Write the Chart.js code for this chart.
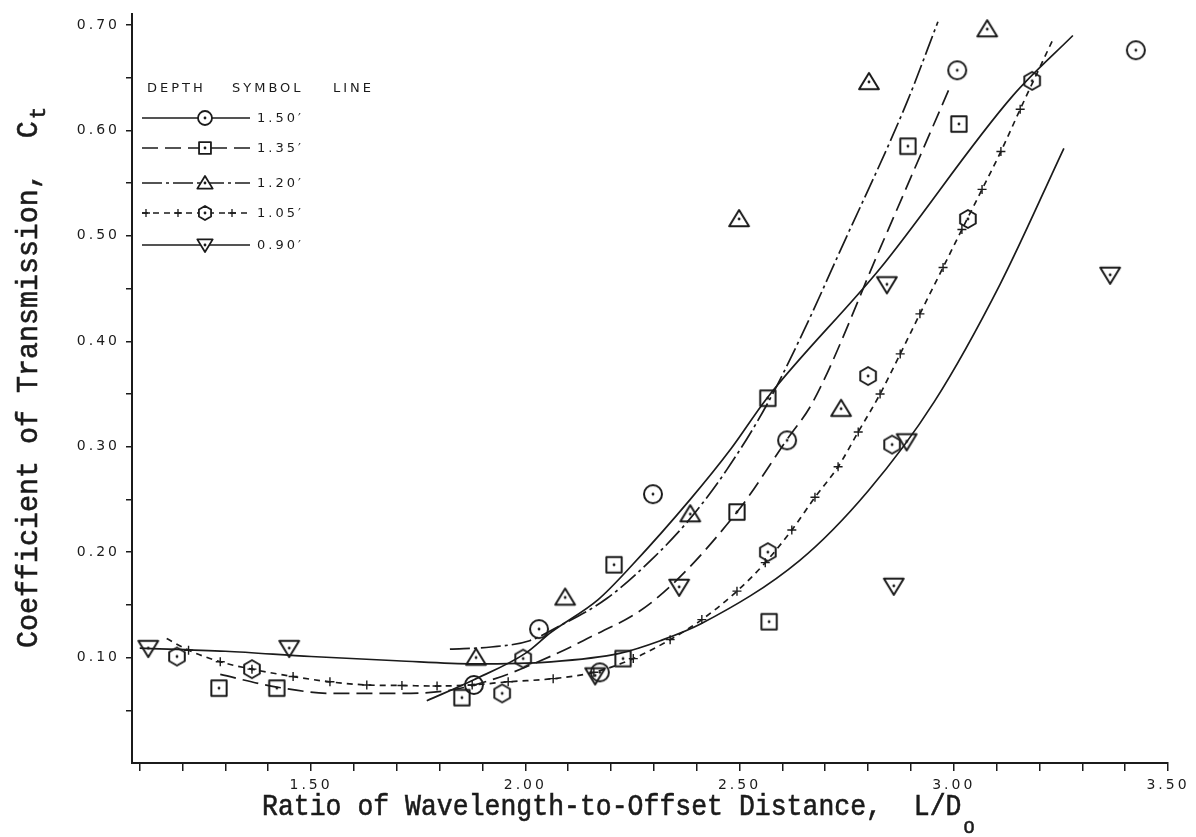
<!DOCTYPE html>
<html>
<head>
<meta charset="utf-8">
<title>Coefficient of Transmission vs L/Do</title>
<script src="https://cdn.jsdelivr.net/npm/chart.js@4.4.1/dist/chart.umd.min.js"></script>
<style>
  html, body { margin: 0; padding: 0; background: #fff; }
  #wrap { position: relative; width: 1196px; height: 837px; }
</style>
</head>
<body>
<div id="wrap"><canvas id="ctChart" width="1196" height="837"></canvas></div>
<script>
/* ---- values ---- */
const depthLabels = ['1.50′', '1.35′', '1.20′', '1.05′', '0.90′'];

// measured points (x = L/Do, y = Ct)
const pts150X = [1.880, 2.032, 2.174, 2.298, 2.611, 3.008, 3.425];
const pts150Y = [0.074, 0.127, 0.086, 0.255, 0.306, 0.657, 0.676];

const pts135X = [1.285, 1.420, 1.852, 2.207, 2.228, 2.494, 2.566, 2.569, 2.893, 3.012];
const pts135Y = [0.071, 0.071, 0.062, 0.188, 0.099, 0.238, 0.346, 0.134, 0.585, 0.606];

const pts120X = [1.885, 2.093, 2.385, 2.499, 2.737, 2.802, 3.078];
const pts120Y = [0.100, 0.157, 0.236, 0.516, 0.336, 0.646, 0.696];

const pts105X = [1.187, 1.362, 1.946, 1.995, 2.566, 2.800, 2.856, 3.033, 3.183];
const pts105Y = [0.101, 0.089, 0.066, 0.099, 0.200, 0.367, 0.302, 0.516, 0.647];

const pts090X = [1.120, 1.449, 2.163, 2.359, 2.844, 2.860, 2.890, 3.365];
const pts090Y = [0.109, 0.109, 0.083, 0.167, 0.454, 0.168, 0.305, 0.463];

// fitted curves as drawn
const line150X = [1.77, 1.88, 2.00, 2.06, 2.17, 2.25, 2.385, 2.48, 2.564, 2.828, 3.138, 3.278];
const line150Y = [0.059, 0.079, 0.104, 0.124, 0.155, 0.188, 0.250, 0.298, 0.346, 0.469, 0.633, 0.690];

const line135X = [1.288, 1.42, 1.55, 1.71, 1.824, 1.93, 2.03, 2.135, 2.30, 2.494, 2.611, 2.672, 2.83, 2.991];
const line135Y = [0.084, 0.072, 0.066, 0.066, 0.069, 0.080, 0.096, 0.116, 0.154, 0.238, 0.307, 0.343, 0.490, 0.641];

const line120X = [1.824, 1.92, 2.01, 2.08, 2.19, 2.30, 2.385, 2.47, 2.564, 2.65, 2.734, 2.891, 2.963];
const line120Y = [0.108, 0.110, 0.116, 0.130, 0.156, 0.195, 0.232, 0.278, 0.340, 0.410, 0.485, 0.627, 0.703];

// the 1.05' curve: its "+" marks
const line105X = [1.163, 1.214, 1.288, 1.362, 1.458, 1.544, 1.630, 1.712, 1.794, 1.876, 1.960, 2.065, 2.160,
                  2.252, 2.338, 2.412, 2.494, 2.560, 2.622, 2.676, 2.730, 2.777, 2.828, 2.875, 2.921, 2.975,
                  3.019, 3.066, 3.110, 3.155, 3.230];
const line105Y = [0.118, 0.107, 0.096, 0.089, 0.082, 0.077, 0.074, 0.0735, 0.073, 0.074, 0.077, 0.080, 0.086,
                  0.099, 0.117, 0.136, 0.163, 0.190, 0.221, 0.252, 0.281, 0.314, 0.350, 0.388, 0.426, 0.470,
                  0.506, 0.544, 0.580, 0.620, 0.685];

const line090X = [1.10, 1.30, 1.50, 1.70, 1.88, 2.06, 2.22, 2.315, 2.41, 2.64, 2.80, 2.955, 3.108, 3.257];
const line090Y = [0.109, 0.106, 0.101, 0.097, 0.094, 0.096, 0.104, 0.116, 0.132, 0.192, 0.258, 0.343, 0.454, 0.583];

// axes
const xTickValues = [1.1, 1.2, 1.3, 1.4, 1.5, 1.6, 1.7, 1.8, 1.9, 2.0, 2.1, 2.2, 2.3, 2.4, 2.5,
                     2.6, 2.7, 2.8, 2.9, 3.0, 3.1, 3.2, 3.3, 3.4, 3.5];
const xTickLabels = ['1.50', '2.00', '2.50', '3.00', '3.50'];
const yTickValues = [0.05, 0.10, 0.15, 0.20, 0.25, 0.30, 0.35, 0.40, 0.45, 0.50, 0.55, 0.60, 0.65, 0.70];
const yTickLabels = ['0.10', '0.20', '0.30', '0.40', '0.50', '0.60', '0.70'];

const xTitle = 'Ratio of Wavelength-to-Offset Distance,  L/D';
const xTitleSub = 'o';
const yTitle = 'Coefficient of Transmission,  C';
const yTitleSub = 't';

/* ---- drawing helpers ---- */
const INK = '#1b1b1b';

const pairs = (xs, ys) => xs.map((x, i) => ({ x: x, y: ys[i] }));

// hollow plot symbols with a dot in the middle
function makeSymbol(kind, r, fillWhite, lw) {
    const size = Math.ceil(r * 2 + 8);
    const c = document.createElement('canvas');
    c.width = size;
    c.height = size;
    const g = c.getContext('2d');
    const m = size / 2;
    g.strokeStyle = INK;
    g.fillStyle = INK;
    g.lineWidth = lw;
    g.lineJoin = 'round';
    g.beginPath();
    if (kind === 'circle') {
        g.arc(m, m, r, 0, Math.PI * 2);
    } else if (kind === 'square') {
        const h = r * 0.85;
        g.rect(m - h, m - h, h * 2, h * 2);
    } else if (kind === 'triangle') {
        g.moveTo(m, m - r);
        g.lineTo(m + r * 1.1, m + r * 0.8);
        g.lineTo(m - r * 1.1, m + r * 0.8);
        g.closePath();
    } else if (kind === 'tridown') {
        g.moveTo(m, m + r);
        g.lineTo(m + r * 1.1, m - r * 0.8);
        g.lineTo(m - r * 1.1, m - r * 0.8);
        g.closePath();
    } else if (kind === 'hexagon') {
        for (let i = 0; i < 6; i++) {
            const a = -Math.PI / 2 + i * Math.PI / 3;
            const px = m + r * Math.cos(a), py = m + r * Math.sin(a);
            i === 0 ? g.moveTo(px, py) : g.lineTo(px, py);
        }
        g.closePath();
    }
    if (fillWhite) {
        g.fillStyle = '#fff';
        g.fill();
        g.fillStyle = INK;
    }
    g.stroke();
    g.beginPath();
    g.arc(m, m, 1.4, 0, Math.PI * 2);
    g.fill();
    return c;
}

const series = [
    { sym: 'circle',   dash: [],            ptsX: pts150X, ptsY: pts150Y, lineX: line150X, lineY: line150Y },
    { sym: 'square',   dash: [16, 7],       ptsX: pts135X, ptsY: pts135Y, lineX: line135X, lineY: line135Y },
    { sym: 'triangle', dash: [20, 4, 3, 4], ptsX: pts120X, ptsY: pts120Y, lineX: line120X, lineY: line120Y },
    { sym: 'hexagon',  dash: [6, 5],        ptsX: pts105X, ptsY: pts105Y, lineX: line105X, lineY: line105Y, crosses: true },
    { sym: 'tridown',  dash: [],            ptsX: pts090X, ptsY: pts090Y, lineX: line090X, lineY: line090Y }
];

const datasets = [];
series.forEach((s, i) => {
    datasets.push({
        label: depthLabels[i] + ' points',
        data: pairs(s.ptsX, s.ptsY),
        showLine: false,
        pointStyle: makeSymbol(s.sym, 9, false, 2),
        pointRadius: 9,
        clip: false
    });
});
series.forEach((s, i) => {
    const n = s.lineX.length;
    datasets.push({
        label: depthLabels[i] + ' curve',
        data: pairs(s.lineX, s.lineY),
        showLine: true,
        borderColor: INK,
        borderWidth: 1.7,
        borderDash: s.dash,
        cubicInterpolationMode: 'monotone',
        pointStyle: 'cross',
        pointBorderColor: INK,
        pointBorderWidth: 1.4,
        pointRadius: s.crosses ? (ctx => (ctx.dataIndex === 0 || ctx.dataIndex === n - 1) ? 0 : 4.5) : 0,
        clip: false
    });
});

/* ---- plugins: letter-spaced tick labels, titles, legend ---- */
const tickSpacing = {
    id: 'tickSpacing',
    beforeDraw(chart) { chart.ctx.letterSpacing = '3px'; },
    beforeDatasetsDraw(chart) { chart.ctx.letterSpacing = '0px'; }
};

const legendRowsY = [118, 148, 183, 213, 245];
const legendSymbols = series.map(s => makeSymbol(s.sym, 7, true, 1.8));

// typewriter title, drawn a little condensed and inked like the original
function drawTitle(ctx, text, sub, x, y, size, squeeze, subDrop) {
    ctx.save();
    ctx.translate(x, y);
    ctx.scale(squeeze, 1);
    ctx.lineWidth = 0.6;
    ctx.font = size + 'px "Liberation Mono"';
    ctx.fillText(text, 0, 0);
    ctx.strokeText(text, 0, 0);
    const w = ctx.measureText(text).width;
    ctx.font = Math.round(size * 0.72) + 'px "Liberation Mono"';
    ctx.fillText(sub, w + 2, subDrop);
    ctx.strokeText(sub, w + 2, subDrop);
    ctx.restore();
}

const annotate = {
    id: 'annotate',
    afterDraw(chart) {
        const ctx = chart.ctx;
        ctx.save();
        ctx.fillStyle = INK;
        ctx.strokeStyle = INK;
        ctx.letterSpacing = '0px';
        ctx.textBaseline = 'alphabetic';
        ctx.textAlign = 'left';

        // axis titles
        drawTitle(ctx, xTitle, xTitleSub, 262, 815, 30, 0.883, 18);
        ctx.save();
        ctx.translate(37, 648);
        ctx.rotate(-Math.PI / 2);
        drawTitle(ctx, yTitle, yTitleSub, 0, 0, 30, 0.944, 8);
        ctx.restore();

        // legend
        ctx.font = '13px "DejaVu Sans"';
        ctx.letterSpacing = '3px';
        ctx.textBaseline = 'middle';
        ctx.fillText('DEPTH', 147, 89);
        ctx.fillText('SYMBOL', 232, 89);
        ctx.fillText('LINE', 333, 89);
        legendRowsY.forEach((y, i) => {
            const s = series[i];
            ctx.lineWidth = 1.6;
            ctx.setLineDash(s.dash);
            ctx.beginPath();
            ctx.moveTo(142, y);
            ctx.lineTo(250, y);
            ctx.stroke();
            ctx.setLineDash([]);
            if (s.crosses) {
                ctx.lineWidth = 1.3;
                [146, 178, 232].forEach(cx => {
                    ctx.beginPath();
                    ctx.moveTo(cx - 4, y); ctx.lineTo(cx + 4, y);
                    ctx.moveTo(cx, y - 4); ctx.lineTo(cx, y + 4);
                    ctx.stroke();
                });
            }
            const img = legendSymbols[i];
            ctx.drawImage(img, 205 - img.width / 2, y - img.height / 2);
            ctx.fillText(depthLabels[i], 257, y + 1);
        });
        ctx.restore();
    }
};

/* ---- chart ---- */
new Chart(document.getElementById('ctChart'), {
    type: 'scatter',
    data: { datasets: datasets },
    options: {
        responsive: false,
        animation: false,
        events: [],
        layout: { padding: { top: 12, right: 28, left: 0, bottom: 0 } },
        plugins: {
            legend: { display: false },
            tooltip: { enabled: false }
        },
        scales: {
            x: {
                type: 'linear',
                min: 1.082,
                max: 3.5,
                afterFit: s => { s.height = 74; },
                afterBuildTicks: s => { s.ticks = xTickValues.map(v => ({ value: v })); },
                ticks: {
                    autoSkip: false,
                    maxRotation: 0,
                    padding: 6,
                    color: INK,
                    font: { family: 'DejaVu Sans', size: 14 },
                    callback: v => xTickLabels.includes(v.toFixed(2)) ? v.toFixed(2) : ''
                },
                grid: { drawOnChartArea: false, drawTicks: true, tickLength: 8, color: INK, lineWidth: 1.5 },
                border: { display: true, color: INK, width: 2 }
            },
            y: {
                type: 'linear',
                min: 0,
                max: 0.71,
                afterFit: s => { s.width = 132; },
                afterBuildTicks: s => { s.ticks = yTickValues.map(v => ({ value: v })); },
                ticks: {
                    autoSkip: false,
                    padding: 6,
                    color: INK,
                    font: { family: 'DejaVu Sans', size: 14 },
                    callback: v => yTickLabels.includes(v.toFixed(2)) ? v.toFixed(2) : ''
                },
                grid: { drawOnChartArea: false, drawTicks: true, tickLength: 6, color: INK, lineWidth: 1.5 },
                border: { display: true, color: INK, width: 2 }
            }
        }
    },
    plugins: [tickSpacing, annotate]
});
</script>
</body>
</html>
